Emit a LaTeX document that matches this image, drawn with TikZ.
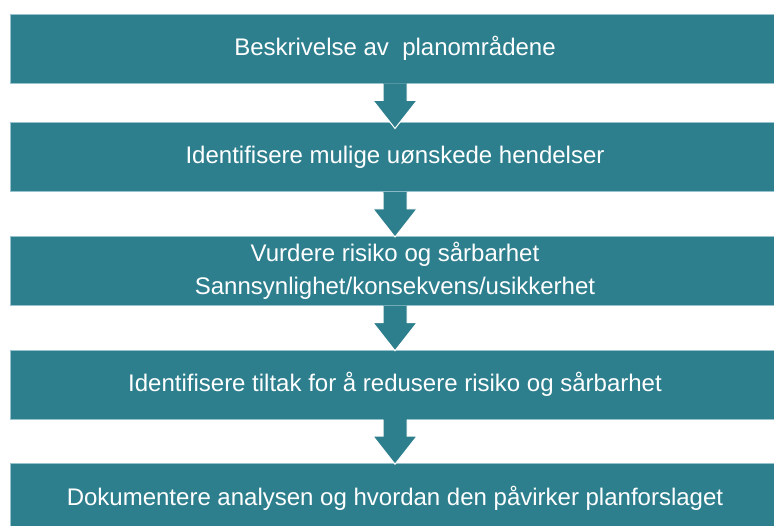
\documentclass[tikz,border=0pt]{standalone}
\usepackage{fontspec}
\setmainfont{Liberation Sans}
\usetikzlibrary{calc}
\definecolor{tealbox}{RGB}{46,127,142}
\definecolor{tealedge}{RGB}{150,195,205}
\begin{document}
\begin{tikzpicture}[x=1pt,y=-1pt,
  stepbox/.style={fill=tealbox, draw=tealedge, line width=0.5pt, text=white,
    minimum width=770pt, minimum height=69pt, inner sep=0pt, align=center,
    font=\fontsize{24}{33}\selectfont, anchor=north},
  arrfill/.style={fill=tealbox},
  arrline/.style={draw=white, line width=1pt, line join=miter}]
\useasboundingbox (0,0) rectangle (774,526);
\node[stepbox] (b1) at (395,14) {Beskrivelse av~~planområdene};
\node[stepbox] (b2) at (395,122.5) {Identifisere mulige uønskede hendelser};
\node[stepbox] (b3) at (395,236.2) {Vurdere risiko og sårbarhet\\Sannsynlighet/konsekvens/usikkerhet};
\node[stepbox] (b4) at (395,349.7) {Identifisere tiltak for å redusere risiko og sårbarhet};
\node[stepbox] (b5) at (395,463.4) {Dokumentere analysen og hvordan den påvirker planforslaget};
\foreach \a/\b in {b1/b2,b2/b3,b3/b4,b4/b5}{
  \fill[arrfill] ($(\a.south)+(-12,0)$) -- ++(0,17) -- ++(-10,0) -- ($(\a.south)+(0,45)$)
     -- ($(\a.south)+(22,17)$) -- ++(-10,0) -- ($(\a.south)+(12,0)$) -- cycle;
  \draw[arrline] ($(\a.south)+(-12,0.5)$) -- ++(0,16.5) -- ++(-10,0) -- ($(\a.south)+(0,45)$)
     -- ($(\a.south)+(22,17)$) -- ++(-10,0) -- ($(\a.south)+(12,0.5)$);
}
\end{tikzpicture}
\end{document}
